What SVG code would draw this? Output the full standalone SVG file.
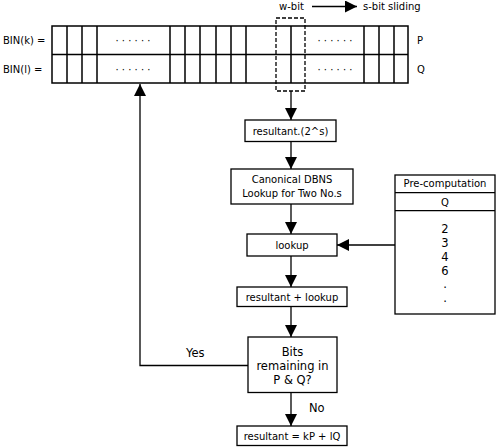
<svg xmlns="http://www.w3.org/2000/svg" width="498" height="448" viewBox="0 0 498 448">
<defs>
<style>
text{font-family:"DejaVu Sans",Verdana,sans-serif;font-size:10px;fill:#000}
.c{text-anchor:middle}
.b{font-size:11.5px}
.box{fill:#fff;stroke:#000;stroke-width:1.3}
.ln{fill:none;stroke:#000;stroke-width:1.3}
.g{fill:none;stroke:#000;stroke-width:1.5}
</style>
<marker id="ah" markerWidth="12" markerHeight="12" refX="12" refY="6" orient="auto" markerUnits="userSpaceOnUse">
<path d="M0,0 L12,6 L0,12 Z" fill="#000"/>
</marker>
</defs>
<g id="register">
<rect x="52" y="26" width="356" height="57" class="g"/>
<line x1="52" y1="54.5" x2="408" y2="54.5" class="g"/>
<path class="g" d="M67,26V83M82,26V83M97,26V83M170,26V83M185,26V83M200,26V83M216,26V83M231,26V83M246,26V83M291,26V83M364,26V83M379,26V83M394,26V83"/>
<text x="133" y="44" class="c">· · · · · ·</text>
<text x="133" y="73" class="c">· · · · · ·</text>
<text x="335" y="44" class="c">· · · · · ·</text>
<text x="335" y="73" class="c">· · · · · ·</text>
<rect x="276" y="18" width="29" height="73" fill="none" stroke="#000" stroke-width="1.3" stroke-dasharray="4,2"/>
<text x="3" y="44">BIN(k) =</text>
<text x="3" y="73">BIN(l) =</text>
<text x="417" y="44">P</text>
<text x="417" y="73">Q</text>
<text x="279" y="10">w-bit</text>
<text x="363" y="10">s-bit sliding</text>
</g>
<g id="n1"><rect x="245" y="120" width="91" height="21.5" class="box"/><text x="290.5" y="134.5" class="c">resultant.(2^s)</text></g>
<g id="n2"><rect x="231" y="169" width="122" height="35" class="box"/><text x="292" y="183" class="c">Canonical DBNS</text><text x="292" y="196.5" class="c">Lookup for Two No.s</text></g>
<g id="n3"><rect x="247" y="234" width="90" height="22" class="box"/><text x="292" y="248.5" class="c">lookup</text></g>
<g id="n4"><rect x="237" y="287" width="110" height="19.5" class="box"/><text x="292" y="300.5" class="c">resultant + lookup</text></g>
<g id="n5"><rect x="248" y="337" width="89" height="55.5" class="box"/><text x="292.5" y="356" class="c b">Bits</text><text x="292.5" y="370" class="c b">remaining in</text><text x="292.5" y="384" class="c b">P &amp; Q?</text></g>
<g id="n6"><rect x="237" y="426" width="110" height="19.5" class="box"/><text x="292" y="439.5" class="c">resultant = kP + lQ</text></g>
<g id="pre">
<rect x="395" y="175" width="100" height="139" class="box"/>
<line x1="395" y1="192.7" x2="495" y2="192.7" class="ln"/>
<line x1="395" y1="210.7" x2="495" y2="210.7" class="ln"/>
<text x="445" y="187" class="c">Pre-computation</text>
<text x="445" y="205.5" class="c">Q</text>
<text x="445" y="232.5" class="c b">2</text>
<text x="445" y="246.5" class="c b">3</text>
<text x="445" y="260.5" class="c b">4</text>
<text x="445" y="274.5" class="c b">6</text>
<text x="445" y="288" class="c b">.</text>
<text x="445" y="302" class="c b">.</text>
</g>
<g id="connectors">
<line x1="312" y1="6.5" x2="357" y2="6.5" class="ln" marker-end="url(#ah)"/>
<line x1="291" y1="91" x2="291" y2="120" class="ln" marker-end="url(#ah)"/>
<line x1="291" y1="141.5" x2="291" y2="169" class="ln" marker-end="url(#ah)"/>
<line x1="291" y1="204" x2="291" y2="234" class="ln" marker-end="url(#ah)"/>
<line x1="291" y1="256" x2="291" y2="287" class="ln" marker-end="url(#ah)"/>
<line x1="291" y1="306.5" x2="291" y2="337" class="ln" marker-end="url(#ah)"/>
<line x1="291" y1="392.5" x2="291" y2="426" class="ln" marker-end="url(#ah)"/>
<line x1="395" y1="245" x2="337" y2="245" class="ln" marker-end="url(#ah)"/>
<polyline points="248,365.5 140,365.5 140,84" class="ln" marker-end="url(#ah)"/>
<text x="186" y="357" class="b">Yes</text>
<text x="309" y="412" class="b">No</text>
</g>
</svg>
